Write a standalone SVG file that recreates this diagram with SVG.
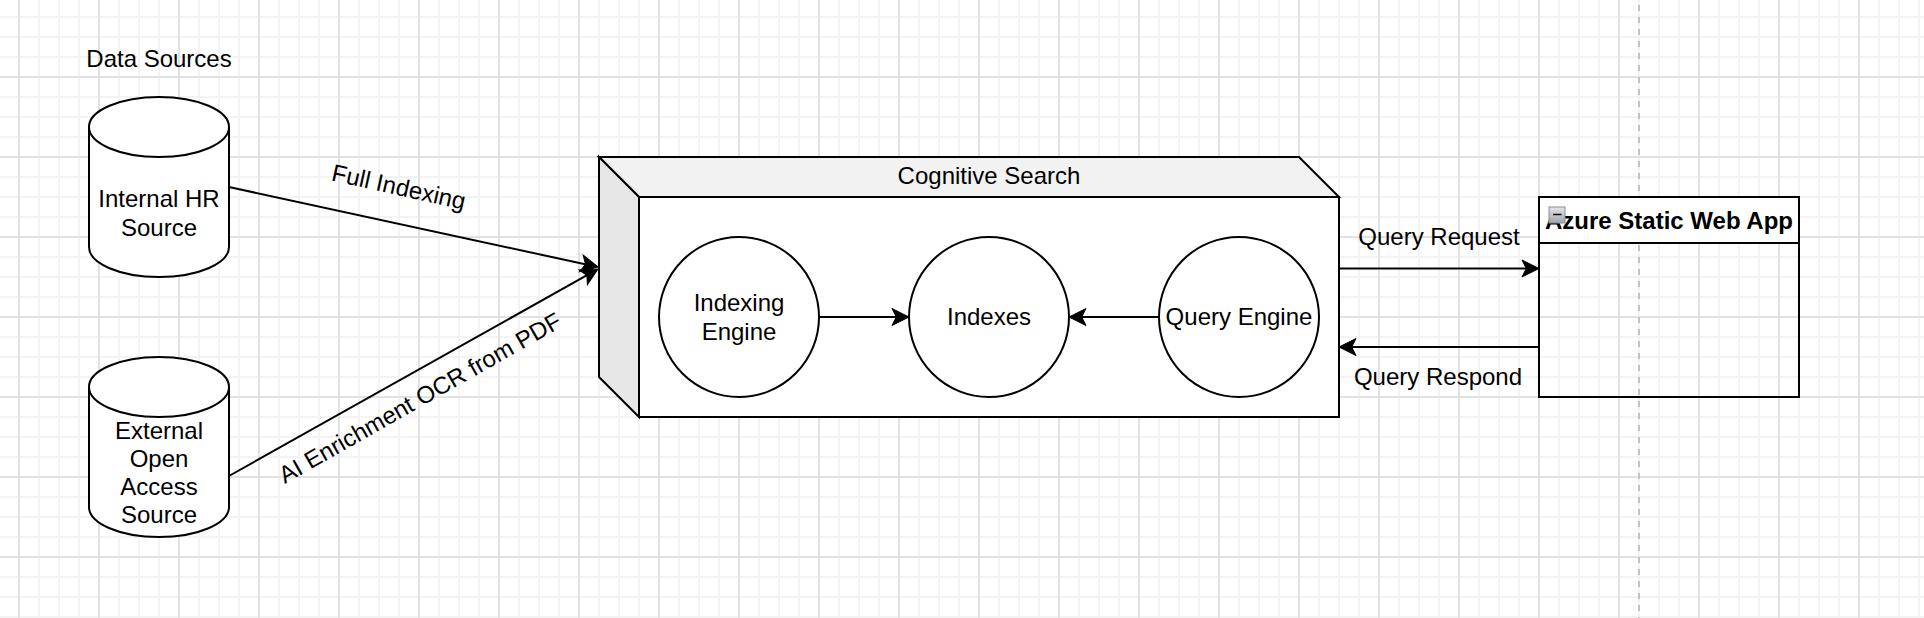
<svg xmlns="http://www.w3.org/2000/svg" width="1924" height="618" viewBox="0 0 1924 618">
<style>
.t{font-family:"Liberation Sans",Arial,Helvetica,sans-serif;font-size:24px;fill:#000;text-anchor:middle}
.b{font-weight:bold}
.s{fill:#fff;stroke:#000;stroke-width:2;stroke-linejoin:miter}
.e{fill:none;stroke:#000;stroke-width:2}
.ah{fill:#000;stroke:#000;stroke-width:1;stroke-linejoin:miter}
</style>
<defs>
<pattern id="grid" patternUnits="userSpaceOnUse" x="18" y="-4" width="80" height="80">
<path d="M21,0V80M41,0V80M61,0V80M0,21H80M0,41H80M0,61H80" stroke="#f3f3f3" stroke-width="2" fill="none"/>
<path d="M1,0V80M0,1H80" stroke="#e2e2e2" stroke-width="2" fill="none"/>
</pattern>
<linearGradient id="icon" x1="0" y1="0" x2="0" y2="1">
<stop offset="0" stop-color="#e4e5ea"/>
<stop offset="1" stop-color="#a2a4ae"/>
</linearGradient>
<path id="ah" class="ah" d="M0,0 L-17,-8.5 L-12.75,0 L-17,8.5 Z"/>
</defs>
<rect width="1924" height="618" fill="#fff"/>
<rect width="1924" height="618" fill="url(#grid)"/>
<line x1="1639" y1="-7" x2="1639" y2="618" stroke="#c2c2c2" stroke-width="2" stroke-dasharray="6 6"/>

<g id="data-sources-label">
<text class="t" x="159" y="67">Data Sources</text>
</g>

<g id="internal-hr-source">
<path class="s" d="M89,127 A70,30 0 0,1 229,127 L229,247 A70,30 0 0,1 89,247 Z"/>
<path class="e" d="M89,127 A70,30 0 0,0 229,127"/>
<text class="t" x="159" y="207">Internal HR</text>
<text class="t" x="159" y="235.5">Source</text>
</g>

<g id="external-open-access-source">
<path class="s" d="M89,387 A70,30 0 0,1 229,387 L229,507 A70,30 0 0,1 89,507 Z"/>
<path class="e" d="M89,387 A70,30 0 0,0 229,387"/>
<text class="t" x="159" y="439">External</text>
<text class="t" x="159" y="467">Open</text>
<text class="t" x="159" y="495">Access</text>
<text class="t" x="159" y="523">Source</text>
</g>

<g id="cognitive-search">
<rect class="s" x="639" y="197" width="700" height="220"/>
<path class="s" d="M599,157 L1299,157 L1339,197 L639,197 Z" style="fill:#f2f2f2"/>
<path class="s" d="M599,157 L639,197 L639,417 L599,377 Z" style="fill:#e6e6e6"/>
<text class="t" x="989" y="184">Cognitive Search</text>
</g>

<g id="indexing-engine">
<circle class="s" cx="739" cy="317" r="80"/>
<text class="t" x="739" y="311">Indexing</text>
<text class="t" x="739" y="339.5">Engine</text>
</g>

<g id="indexes">
<circle class="s" cx="989" cy="317" r="80"/>
<text class="t" x="989" y="325">Indexes</text>
</g>

<g id="query-engine">
<circle class="s" cx="1239" cy="317" r="80"/>
<text class="t" x="1239" y="325">Query Engine</text>
</g>

<g id="azure-static-web-app">
<rect x="1539" y="197" width="260" height="200" fill="none" stroke="#000" stroke-width="2"/>
<rect class="s" x="1539" y="197" width="260" height="46"/>
<text class="t b" x="1669" y="228.5">Azure Static Web App</text>
<rect x="1549" y="207" width="16" height="16" fill="url(#icon)" stroke="#8c8e98" stroke-width="1"/>
<line x1="1553" y1="214.5" x2="1561.5" y2="214.5" stroke="#111" stroke-width="1.5"/>
</g>

<g id="connectors">
<line class="e" x1="229" y1="187" x2="586.3" y2="264.5"/>
<use href="#ah" transform="translate(598,267) rotate(12.23)"/>
<line class="e" x1="229" y1="476" x2="587.5" y2="274.9"/>
<use href="#ah" transform="translate(598,269) rotate(-29.41)"/>
<line class="e" x1="819" y1="317" x2="897" y2="317"/>
<use href="#ah" transform="translate(909,317)"/>
<line class="e" x1="1159" y1="317" x2="1081" y2="317"/>
<use href="#ah" transform="translate(1069,317) rotate(180)"/>
<line class="e" x1="1339" y1="268.5" x2="1527" y2="268.5"/>
<use href="#ah" transform="translate(1539,268.5)"/>
<line class="e" x1="1539" y1="347" x2="1351" y2="347"/>
<use href="#ah" transform="translate(1339,347) rotate(180)"/>
<text class="t" transform="translate(397,195) rotate(12.5)">Full Indexing</text>
<text class="t" transform="translate(424,405) rotate(-29.6)">AI Enrichment OCR from PDF</text>
<text class="t" x="1439" y="245">Query Request</text>
<text class="t" x="1438" y="385">Query Respond</text>
</g>
</svg>
